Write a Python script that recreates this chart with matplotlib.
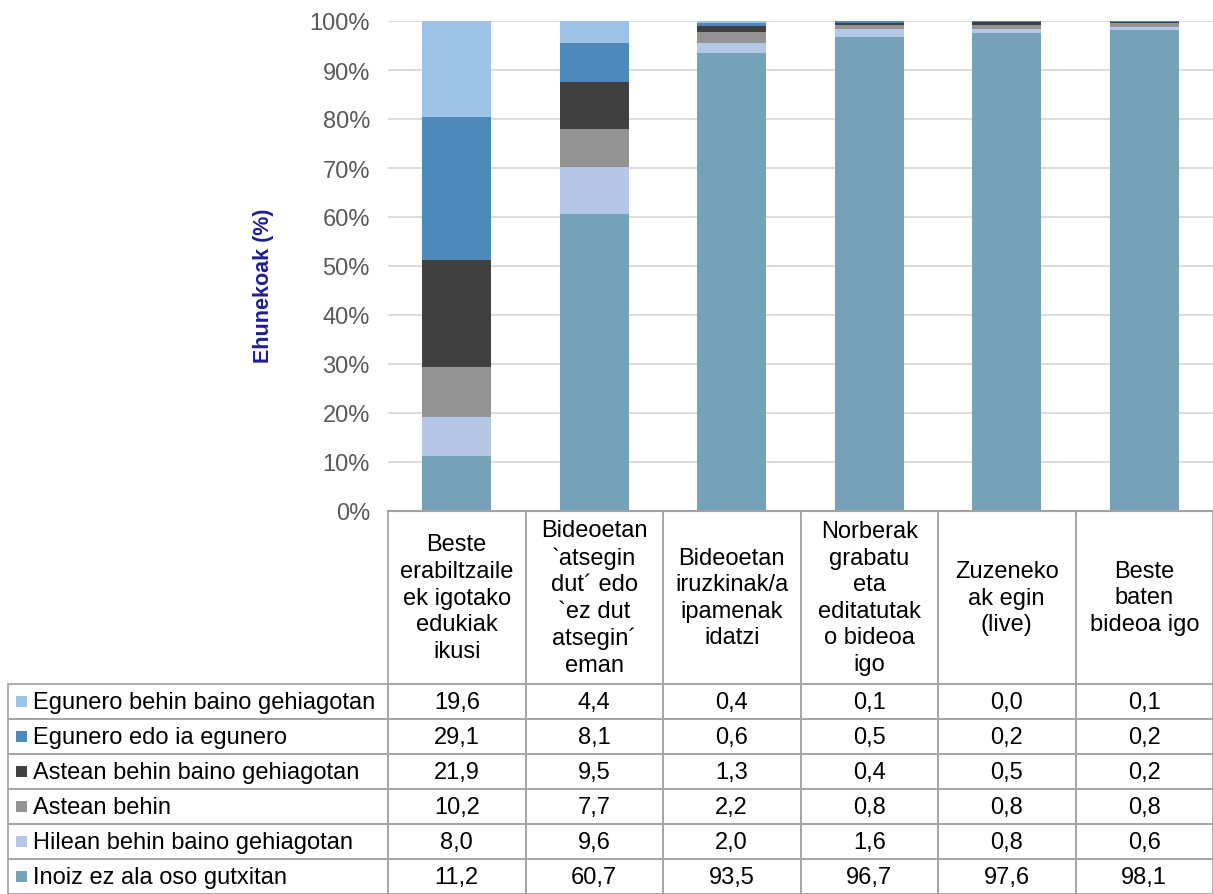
import numpy as np
import matplotlib
matplotlib.use('Agg')
import matplotlib.pyplot as plt
from matplotlib.patches import Rectangle

plt.rcParams['font.family'] = ['Liberation Sans', 'DejaVu Sans']

categories = ["Beste\nerabiltzaile\nek igotako\nedukiak\nikusi",
              "Bideoetan\n`atsegin\ndut´ edo\n`ez dut\natsegin´\neman",
              "Bideoetan\niruzkinak/a\nipamenak\nidatzi",
              "Norberak\ngrabatu\neta\neditatutak\no bideoa\nigo",
              "Zuzeneko\nak egin\n(live)",
              "Beste\nbaten\nbideoa igo"]

# top to bottom, as in the table
series = ["Egunero behin baino gehiagotan",
          "Egunero edo ia egunero",
          "Astean behin baino gehiagotan",
          "Astean behin",
          "Hilean behin baino gehiagotan",
          "Inoiz ez ala oso gutxitan"]
egunero_behin = [19.6, 4.4, 0.4, 0.1, 0.0, 0.1]
egunero_ia = [29.1, 8.1, 0.6, 0.5, 0.2, 0.2]
astean_gehiago = [21.9, 9.5, 1.3, 0.4, 0.5, 0.2]
astean_behin = [10.2, 7.7, 2.2, 0.8, 0.8, 0.8]
hilean = [8.0, 9.6, 2.0, 1.6, 0.8, 0.6]
inoiz = [11.2, 60.7, 93.5, 96.7, 97.6, 98.1]
values = [egunero_behin, egunero_ia, astean_gehiago, astean_behin, hilean, inoiz]
colors = ['#9dc3e6', '#4f88bb', '#404040', '#939393', '#b4c7e7', '#76a2b9']

W, H = 1213, 895
fig = plt.figure(figsize=(W/100, H/100), dpi=100)

ax_l, ax_r, ax_top, ax_bot = 388, 1213, 22, 512
ax = fig.add_axes([ax_l/W, 1-ax_bot/H, (ax_r-ax_l)/W, (ax_bot-ax_top)/H])

x = np.arange(len(categories))
bottom = np.zeros(len(categories))
for vals, col in zip(values[::-1], colors[::-1]):
    ax.bar(x, vals, 0.5, bottom=bottom, color=col, zorder=3)
    bottom += np.array(vals)

ax.set_xlim(-0.5, len(categories)-0.5)
ax.set_ylim(0, 100)
ax.set_yticks(np.arange(0, 101, 10))
ax.set_yticklabels([f"{v}%" for v in range(0, 101, 10)])
ax.tick_params(axis='y', length=0, pad=13, labelsize=17, labelcolor='#595959')
ax.set_xticks([])
ax.grid(axis='y', color='#d9d9d9', lw=1.3, zorder=0)
for s in ['top', 'right', 'left']:
    ax.spines[s].set_visible(False)
ax.spines['bottom'].set_color('#7f7f7f')
ax.spines['bottom'].set_linewidth(1.5)
ax.spines['bottom'].set_zorder(4)
ax.set_ylabel("Ehunekoak (%)", color='#1f1f8f', fontweight='bold', fontsize=15.5)
ax.yaxis.set_label_coords(-0.138, 0.461)

# data table below
tb_l, tb_top = 8, 512
unit = (ax_r - ax_l) / len(categories)
lab_w = (ax_l - tb_l) / unit
header_h = 173 / 35.0
n_rows = len(series)
tax = fig.add_axes([tb_l/W, 0, (ax_r-tb_l)/W, (H-tb_top)/H])
tax.set_xlim(-0.5-lab_w, len(categories)-0.5)
tax.set_ylim(n_rows + header_h, 0)
tax.axis('off')

lc = '#a6a6a6'
lw = 1.3
# header cells
for i, cat in enumerate(categories):
    tax.add_patch(Rectangle((i-0.5, 0), 1, header_h, fill=False, ec=lc, lw=lw, clip_on=False))
    tax.text(i, header_h/2, cat, ha='center', va='center', fontsize=17, linespacing=1.27)
# data rows
for r, (name, vals, col) in enumerate(zip(series, values, colors)):
    y0 = header_h + r
    tax.add_patch(Rectangle((-0.5-lab_w, y0), lab_w, 1, fill=False, ec=lc, lw=lw, clip_on=False))
    tax.add_patch(Rectangle((-0.5-lab_w+0.06, y0+0.33), 0.08, 0.33, color=col, lw=0))
    tax.text(-0.5-lab_w+0.18, y0+0.52, name, ha='left', va='center', fontsize=17)
    for i, v in enumerate(vals):
        tax.add_patch(Rectangle((i-0.5, y0), 1, 1, fill=False, ec=lc, lw=lw, clip_on=False))
        tax.text(i, y0+0.52, f"{v:.1f}".replace('.', ','), ha='center', va='center', fontsize=17)

fig.savefig('out.png', dpi=100)
